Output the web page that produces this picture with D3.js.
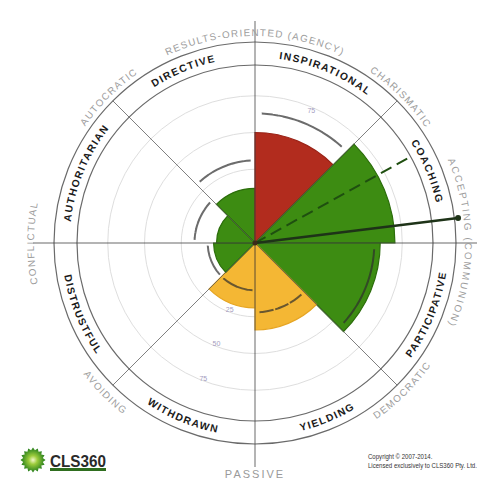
<!DOCTYPE html>
<html><head><meta charset="utf-8">
<script src="https://cdn.jsdelivr.net/npm/d3@7"></script>
<style>body{margin:0;background:#fff}svg{display:block}</style>
</head><body>
<svg id="c" width="477" height="480"></svg>
<script>
// ---------- data ----------
const styles   = ["DIRECTIVE","INSPIRATIONAL","COACHING","PARTICIPATIVE","YIELDING","WITHDRAWN","DISTRUSTFUL","AUTHORITARIAN"];
const scores   = [12, 50, 70, 60, 34, 19, 3, 1];
const norms    = [31, 63, null, 56, 22, 7, 7, 16];
const ratings  = ["green","red","green","green","amber","amber","green","green"];
const dimensions = ["RESULTS-ORIENTED (AGENCY)","CHARISMATIC","ACCEPTING (COMMUNION)","DEMOCRATIC","PASSIVE","AVOIDING","CONFLICTUAL","AUTOCRATIC"];
const ringValues = [0, 25, 50, 75];
const ringLabels = ["25","50","75"];
const needle = {angle: 83, value: 114};
const dashedRay = {angle: 61, value: 94};
const copyright = ["Copyright \u00A9 2007-2014.", "Licensed exclusively to CLS360 Pty. Ltd."];
const logoText = "CLS360";

// ---------- layout ----------
const svg = d3.select("#c");
const cx = 255, cy = 243;
const R_IN = 178, R_OUT = 201;
const r = d3.scaleLinear().domain([0, 100]).range([37, 184]);
const colour = d3.scaleOrdinal().domain(["red","green","amber"]).range(["#b22c1e","#3d8c12","#f4b734"]);
const edge = d3.scaleOrdinal().domain(["red","green","amber"]).range(["#9c2216","#2c6e0b","#e6a523"]);
const rad = a => a * Math.PI / 180;
const pt = (a, rr) => [cx + rr * Math.sin(rad(a)), cy - rr * Math.cos(rad(a))];
const g = svg.append("g");

function arcPath(rr, mid, span, flip) {
  const a0 = mid - span, a1 = mid + span;
  if (!flip) { const p0 = pt(a0, rr), p1 = pt(a1, rr);
    return `M${p0[0]},${p0[1]} A${rr},${rr} 0 0 1 ${p1[0]},${p1[1]}`; }
  const p0 = pt(a1, rr), p1 = pt(a0, rr);
  return `M${p0[0]},${p0[1]} A${rr},${rr} 0 0 0 ${p1[0]},${p1[1]}`;
}
const defs = svg.append("defs");
let pid = 0;
function arcText(txt, rr, mid, flip, opts) {
  const id = "tp" + (pid++);
  defs.append("path").attr("id", id).attr("d", arcPath(rr, mid, 80, flip));
  g.append("text")
    .attr("font-family", opts.family || "Liberation Sans, Arial, sans-serif")
    .attr("font-size", opts.size).attr("font-weight", opts.weight || "normal")
    .attr("letter-spacing", opts.ls).attr("fill", opts.fill)
    .append("textPath").attr("href", "#" + id).attr("startOffset", "50%")
    .attr("text-anchor", "middle").text(txt);
}

// light grid rings
g.selectAll("circle.grid").data(ringValues).join("circle")
  .attr("cx", cx).attr("cy", cy).attr("r", d => r(d))
  .attr("fill", "none").attr("stroke", "#dedede").attr("stroke-width", 1);

// ring labels (under wedges)
const labelAngles = [201, 23];
labelAngles.forEach(a => {
  g.selectAll(null).data(ringLabels).join("text")
    .attr("x", (d, i) => pt(a, r(ringValues[i + 1]) - 3)[0])
    .attr("y", (d, i) => pt(a, r(ringValues[i + 1]) - 3)[1] + 3)
    .attr("text-anchor", "middle").attr("font-size", 7)
    .attr("font-family", "Liberation Sans, Arial, sans-serif")
    .attr("fill", "#a49cc0").text(d => d);
});

// band circles
[R_IN, R_OUT].forEach(rr => g.append("circle").attr("cx", cx).attr("cy", cy).attr("r", rr)
  .attr("fill", "none").attr("stroke", "#6a6a6a").attr("stroke-width", 1.2));

// wedges
const arc = d3.arc().innerRadius(0);
g.selectAll("path.w").data(styles).join("path")
  .attr("transform", `translate(${cx},${cy})`)
  .attr("d", (d, i) => arc({outerRadius: r(scores[i]), startAngle: rad(i * 45 - 45), endAngle: rad(i * 45)}))
  .attr("fill", (d, i) => colour(ratings[i]))
  .attr("stroke", (d, i) => edge(ratings[i])).attr("stroke-width", 1.2);

// diagonal dividers and axes
[45, 135, 225, 315].forEach(a => {
  const p = pt(a, R_OUT);
  g.append("line").attr("x1", cx).attr("y1", cy).attr("x2", p[0]).attr("y2", p[1])
    .attr("stroke", "#555").attr("stroke-opacity", 0.75).attr("stroke-width", 1);
});
g.append("line").attr("x1", cx).attr("y1", cy - 222).attr("x2", cx).attr("y2", cy + 224)
  .attr("stroke", "#444").attr("stroke-opacity", 0.8).attr("stroke-width", 1);
g.append("line").attr("x1", cx - 222).attr("y1", cy).attr("x2", 477).attr("y2", cy)
  .attr("stroke", "#444").attr("stroke-opacity", 0.8).attr("stroke-width", 1);

// norm arcs (dashed)
const normArc = d3.arc();
g.selectAll("path.n").data(styles).join("path")
  .attr("transform", `translate(${cx},${cy})`)
  .attr("d", (d, i) => norms[i] == null ? null :
     normArc({innerRadius: r(norms[i]), outerRadius: r(norms[i]), startAngle: rad(i * 45 - 45 + 3), endAngle: rad(i * 45 - 3)}))
  .attr("fill", "none").attr("stroke", "#2e2e2e").attr("stroke-opacity", 0.7)
  .attr("stroke-width", 2).attr("stroke-dasharray", "11,5");

// dashed ray and needle
const dp = pt(dashedRay.angle, r(dashedRay.value));
g.append("line").attr("x1", cx).attr("y1", cy).attr("x2", dp[0]).attr("y2", dp[1])
  .attr("stroke", "#1f4f10").attr("stroke-width", 2).attr("stroke-dasharray", "12,6");
const np = pt(needle.angle, r(needle.value));
g.append("line").attr("x1", cx).attr("y1", cy).attr("x2", np[0]).attr("y2", np[1])
  .attr("stroke", "#1e3318").attr("stroke-width", 2.6);
g.append("circle").attr("cx", np[0]).attr("cy", np[1]).attr("r", 3).attr("fill", "#1e3318");
g.append("circle").attr("cx", cx).attr("cy", cy).attr("r", 2.5).attr("fill", "#3a2a1a");

// style labels in the band
styles.forEach((s, i) => {
  const mid = i * 45 - 22.5;
  const m = (mid + 360) % 360;
  const flip = m > 90 && m < 270;
  arcText(s, flip ? 193.5 : 185.5, mid, flip,
    {size: 10.3, weight: "bold", ls: 1.4, fill: "#1a1a1a"});
});

// outer dimension labels
const outerR = [207, 206, 210, 214, 0, 216, 221, 206];
dimensions.forEach((s, i) => {
  const a = i * 45;
  if (i === 4) {
    g.append("text").attr("x", cx).attr("y", 478).attr("text-anchor", "middle")
      .attr("font-family", "Liberation Sans, Arial, sans-serif").attr("font-size", 11)
      .attr("letter-spacing", 2).attr("fill", "#9a9a9a").text(s);
    return;
  }
  const flip = a > 90 && a < 270;
  arcText(s, outerR[i], a, flip, {size: 9.8, ls: i === 2 ? 2 : 1.3, fill: "#9c9c9c"});
});

// logo
const lg = svg.append("g").attr("transform", "translate(33,460)");
const grad = defs.append("radialGradient").attr("id", "lgGrad");
grad.append("stop").attr("offset", "0%").attr("stop-color", "#f3f7c8");
grad.append("stop").attr("offset", "35%").attr("stop-color", "#9ccc3c");
grad.append("stop").attr("offset", "100%").attr("stop-color", "#1f7a1a");
const star = d3.range(32).map(k => [k * Math.PI / 16, k % 2 ? 10 : 12.5]);
lg.append("path").attr("d", d3.lineRadial().curve(d3.curveLinearClosed)(star)).attr("fill", "url(#lgGrad)");
svg.append("text").attr("x", 50).attr("y", 467).attr("font-family", "Liberation Sans Narrow, Liberation Sans, Arial, sans-serif")
  .attr("font-weight", "bold").attr("font-size", 17).attr("fill", "#2a2a2a")
  .attr("textLength", 56).attr("lengthAdjust", "spacingAndGlyphs").text(logoText);
svg.append("rect").attr("x", 50).attr("y", 468).attr("width", 56).attr("height", 3).attr("fill", "#2f6e1f");

// copyright (horizontally condensed to imitate a narrow face)
copyright.forEach((t, i) => {
  svg.append("text").attr("transform", `translate(368,${459 + i * 8.5}) scale(0.82,1)`)
    .attr("font-family", "Liberation Sans, Arial, sans-serif")
    .attr("font-size", 7.4).attr("fill", "#333").text(t);
});
</script>
</body></html>
